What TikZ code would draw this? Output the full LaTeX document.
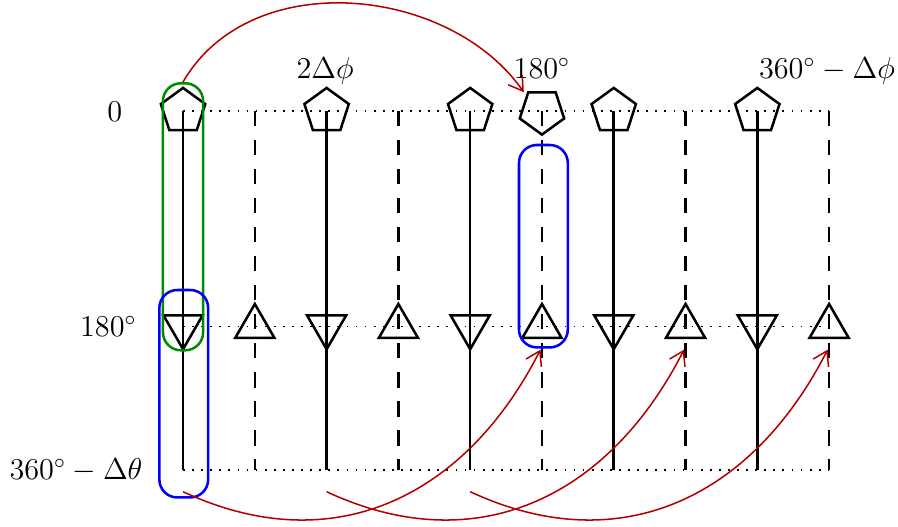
\documentclass[tikz,border=0pt]{standalone}
\usepackage{amsmath,amssymb}
\usetikzlibrary{shapes.geometric,arrows.meta}

\begin{document}
\begin{tikzpicture}[every node/.style={font=\large},
	pent/.style={draw, regular polygon, regular polygon sides=5, minimum size=6.5mm, inner sep=0pt, line width=1pt},
	tri/.style={draw, regular polygon, regular polygon sides=3, minimum size=6.3mm, inner sep=0pt, line width=1pt},
	tridown/.style={tri, shape border rotate=180},
	grp/.style={draw=#1, rounded corners=2.5mm, line width=1pt, inner sep=0pt},
	jump/.style={-{Straight Barb[length=1.9mm, width=2.4mm]}, red!70!black, line width=0.6pt}]
	\useasboundingbox (-2.55,-0.79) rectangle (9.96,6.55);
	\foreach \y in {0,2,5} {\draw[line width=0.7pt, dash pattern=on 0.7pt off 2.9pt] (0,\y) -- (9,\y);}
	\foreach \i in {0,2,4,6,8} {
		\draw[line width=1pt] (\i,5) -- (\i,0);
		\node[pent] (p\i) at (\i,5) {};
		\node[tridown] (t\i) at (\i,2) {};
	}
	\foreach \i in {1,3,5,7,9} {
		\draw[line width=1pt, dash pattern=on 6pt off 5.5pt] (\i,5) -- (\i,0);
		\node[tri] (t\i) at (\i,2) {};
	}
	\node[pent, shape border rotate=180] (p5) at (5,5) {};
	\node[grp=green!55!black, minimum width=5.6mm, minimum height=37.2mm] (gbox) at (0,3.53) {};
	\node[grp=blue, minimum width=6.8mm, minimum height=28.9mm] (bleft) at (0.01,1.065) {};
	\node[grp=blue, minimum width=6.8mm, minimum height=28.2mm] (bright) at (5.02,3.12) {};
	\node[anchor=east, inner sep=0pt] (l0) at (-0.84,5) {$0$};
	\node[anchor=east, inner sep=0pt] (l180) at (-0.64,2) {$180^\circ$};
	\node[anchor=east, inner sep=0pt] (l360) at (-0.56,0) {$360^\circ-\Delta\theta$};
	\node[anchor=base] (a2) at (1.98,5.46) {$2\Delta\phi$};
	\node[anchor=base] (a180) at (5,5.46) {$180^\circ$};
	\node[anchor=base] (a360) at (8.97,5.46) {$360^\circ-\Delta\phi$};
	\draw[jump, shorten >=1.5pt] (gbox.north) to[out=60, in=125] (p5.135);
	\foreach \a/\b in {0/5, 2/7, 4/9} {
		\coordinate (s\a) at (\a,-0.3);
		\coordinate (e\b) at (\b-0.02,1.68);
		\draw[jump] (s\a) to[out=-25, in=-117, looseness=1.1] (e\b);
	}
\end{tikzpicture}
\end{document}
